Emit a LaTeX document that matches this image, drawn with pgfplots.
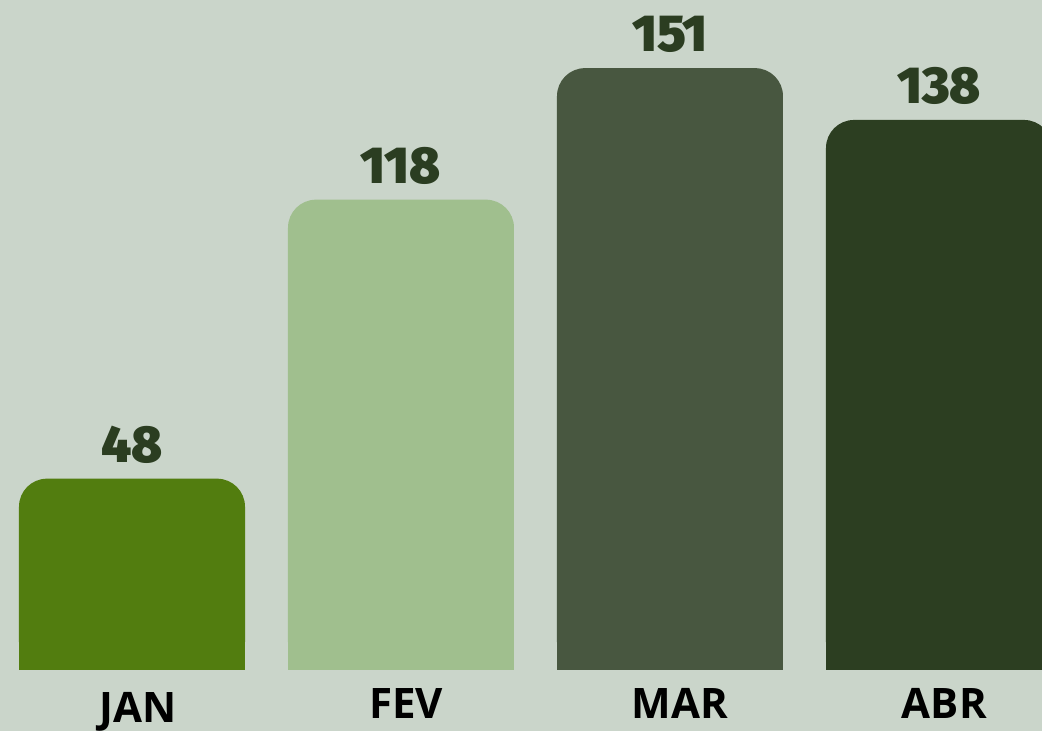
\documentclass[border=0pt]{standalone}
\usepackage{pgfplots}
\pgfplotsset{compat=1.18}
\usepackage{fontspec}
\setmainfont{Open Sans}
\newfontfamily\valfont{Fira Sans Black}
\definecolor{bg}{HTML}{CAD5CA}
\definecolor{cjan}{HTML}{527D0F}
\definecolor{cfev}{HTML}{A0BF8E}
\definecolor{cmar}{HTML}{485740}
\definecolor{cabr}{HTML}{2C3E21}
\definecolor{valc}{HTML}{2B3D21}
\tikzset{mlabel/.style={anchor=base, font=\bfseries\fontsize{21}{21}\selectfont, text=black}}
\begin{document}
\begin{tikzpicture}
\begin{axis}[
  scale only axis, width=521pt, height=365.5pt,
  xmin=-0.4907, xmax=3.383, ymin=-15.31, ymax=168.1,
  axis line style={draw=none}, tick style={draw=none},
  xtick=\empty, ytick=\empty,
  axis background/.style={fill=bg},
  ybar, bar shift=0pt, bar width=113pt,
  /pgf/number format/assume math mode=true,
  value/.style={nodes near coords={\valfont\fontsize{26}{26}\selectfont\pgfmathprintnumber{\pgfplotspointmeta}},
    nodes near coords style={text=valc, anchor=south, inner sep=0pt, yshift=7.5pt}},
]
\addplot[fill=cjan, draw=none, rounded corners=14pt, value] coordinates {(0,48)};
\addplot[fill=cjan, draw=none] coordinates {(0,38)};
\addplot[fill=cfev, draw=none, rounded corners=14pt, value] coordinates {(1,118)};
\addplot[fill=cfev, draw=none] coordinates {(1,108)};
\addplot[fill=cmar, draw=none, rounded corners=14pt, value] coordinates {(2,151)};
\addplot[fill=cmar, draw=none] coordinates {(2,141)};
\addplot[fill=cabr, draw=none, rounded corners=14pt, value] coordinates {(3,138)};
\addplot[fill=cabr, draw=none] coordinates {(3,128)};
\node[mlabel] at (axis cs:0.024,-13.3) {JAN};
\node[mlabel] at (axis cs:1.019,-12.05) {FEV};
\node[mlabel] at (axis cs:2.037,-12.05) {MAR};
\node[mlabel] at (axis cs:3.020,-12.05) {ABR};
\end{axis}
\end{tikzpicture}
\end{document}
